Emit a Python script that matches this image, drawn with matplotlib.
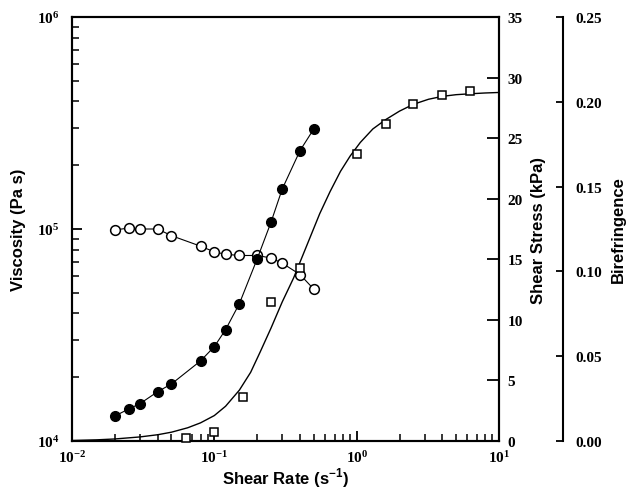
import numpy as np
import matplotlib
matplotlib.use("Agg")
import matplotlib.pyplot as plt
from matplotlib.ticker import FixedLocator, FixedFormatter, FormatStrFormatter, LogLocator, NullFormatter

plt.rcParams['font.family'] = ['Liberation Sans', 'DejaVu Sans']
plt.rcParams['mathtext.fontset'] = 'custom'
plt.rcParams['mathtext.rm'] = 'Liberation Serif'
plt.rcParams['mathtext.bf'] = 'Liberation Serif:bold'
plt.rcParams['mathtext.sf'] = 'Liberation Sans:bold'

# shear rate (s^-1) for viscosity / stress
rate = [0.02, 0.025, 0.03, 0.04, 0.05, 0.08, 0.10, 0.12, 0.15, 0.20, 0.25, 0.30, 0.40, 0.50]
viscosity = [9.9e4, 1.01e5, 1.0e5, 1.0e5, 9.3e4, 8.3e4, 7.8e4, 7.6e4, 7.5e4, 7.5e4,
             7.3e4, 6.9e4, 6.1e4, 5.2e4]
stress = [2.06, 2.64, 3.08, 4.07, 4.71, 6.61, 7.79, 9.19, 11.34, 15.03, 18.05, 20.8, 23.97, 25.76]

# birefringence (squares)
rate_b = [0.063, 0.10, 0.16, 0.25, 0.40, 1.0, 1.6, 2.5, 4.0, 6.3]
biref = [0.0016, 0.0051, 0.0261, 0.0821, 0.1018, 0.169, 0.1867, 0.1989, 0.2042, 0.2065]

# fitted curve, points
rate_fit = [0.01, 0.015, 0.02, 0.03, 0.04, 0.05, 0.065, 0.08, 0.10, 0.12, 0.15, 0.18,
            0.21, 0.25, 0.30, 0.36, 0.45, 0.55, 0.65, 0.77, 0.90, 1.06, 1.3, 1.6,
            2.0, 2.5, 3.2, 4.0, 5.0, 6.5, 8.0, 10.0]
biref_fit = [0.0003, 0.0007, 0.0012, 0.0024, 0.0037, 0.0052, 0.0078, 0.0107, 0.0150,
             0.0205, 0.0300, 0.0405, 0.0525, 0.0665, 0.0820, 0.0960, 0.1160, 0.1340,
             0.1470, 0.1590, 0.1680, 0.1760, 0.1840, 0.1895, 0.1945, 0.1985, 0.2015,
             0.2032, 0.2042, 0.2048, 0.2052, 0.2055]

fig = plt.figure(figsize=(6.33, 4.89), dpi=100)
ax = fig.add_axes([0.1137, 0.0961, 0.6746, 0.8671])
ax2 = ax.twinx()
ax3 = ax.twinx()

lw_sp = 1.5
for a in (ax, ax2, ax3):
    for s in a.spines.values():
        s.set_linewidth(lw_sp)

# viscosity
ax.plot(rate, viscosity, '-o', color='black', lw=0.8, ms=7, mfc='white', mec='black', mew=1.1)
ax.set_xscale('log')
ax.set_yscale('log')
ax.set_xlim(1e-2, 1e1)
ax.set_ylim(1e4, 1e6)
ax.xaxis.set_major_locator(FixedLocator([1e-2, 1e-1, 1e0, 1e1]))
ax.xaxis.set_major_formatter(FixedFormatter([r'$\mathbf{10^{-2}}$', r'$\mathbf{10^{-1}}$',
                                             r'$\mathbf{10^{0}}$', r'$\mathbf{10^{1}}$']))
ax.yaxis.set_major_locator(FixedLocator([1e4, 1e5, 1e6]))
ax.yaxis.set_major_formatter(FixedFormatter([r'$\mathbf{10^{4}}$', r'$\mathbf{10^{5}}$',
                                             r'$\mathbf{10^{6}}$']))
ax.xaxis.set_minor_locator(LogLocator(base=10, subs=np.arange(2, 10)))
ax.xaxis.set_minor_formatter(NullFormatter())
ax.yaxis.set_minor_locator(LogLocator(base=10, subs=np.arange(2, 10)))
ax.yaxis.set_minor_formatter(NullFormatter())
ax.tick_params(axis='both', which='major', direction='in', length=7, width=1.3, labelsize=11)
ax.tick_params(axis='both', which='minor', direction='in', length=5, width=1.1)
ax.tick_params(axis='y', which='both', pad=9, right=False)
ax.tick_params(axis='x', which='both', pad=6, top=False)
ax.set_xlabel(r'Shear Rate (s$^{\mathsf{-1}}$)', fontsize=12, fontweight='bold', labelpad=0)
ax.set_ylabel('Viscosity (Pa s)', fontsize=12, fontweight='bold', labelpad=8)

# shear stress
ax2.plot(rate, stress, '-o', color='black', lw=0.8, ms=7, mfc='black', mec='black')
ax2.set_ylim(0, 35)
ax2.set_yticks(np.arange(0, 36, 5))
ax2.tick_params(axis='y', direction='in', length=9, width=1.3, pad=6)
for t in ax2.get_yticklabels():
    t.set_fontfamily('Liberation Serif')
    t.set_fontweight('bold')
    t.set_fontsize(11)
ax2.set_ylabel('Shear Stress (kPa)', fontsize=12, fontweight='bold', labelpad=6)

# birefringence
ax3.spines['right'].set_position(('axes', 1.15))
for side in ('left', 'top', 'bottom'):
    ax3.spines[side].set_visible(False)
ax3.plot(rate_fit, biref_fit, '-', color='black', lw=1.0)
ax3.plot(rate_b, biref, 's', ls='none', ms=6, mfc='white', mec='black', mew=1.1, clip_on=False)
ax3.set_ylim(0, 0.25)
ax3.set_yticks(np.arange(0, 0.251, 0.05))
ax3.yaxis.set_major_formatter(FormatStrFormatter('%.2f'))
ax3.tick_params(axis='y', direction='in', length=5, width=1.3, pad=9)
for t in ax3.get_yticklabels():
    t.set_fontfamily('Liberation Serif')
    t.set_fontweight('bold')
    t.set_fontsize(11)
ax3.set_ylabel('Birefringence', fontsize=12, fontweight='bold', labelpad=6)

for t in ax.get_xticklabels() + ax.get_yticklabels():
    t.set_fontsize(11)

fig.savefig('out.png', dpi=100)
